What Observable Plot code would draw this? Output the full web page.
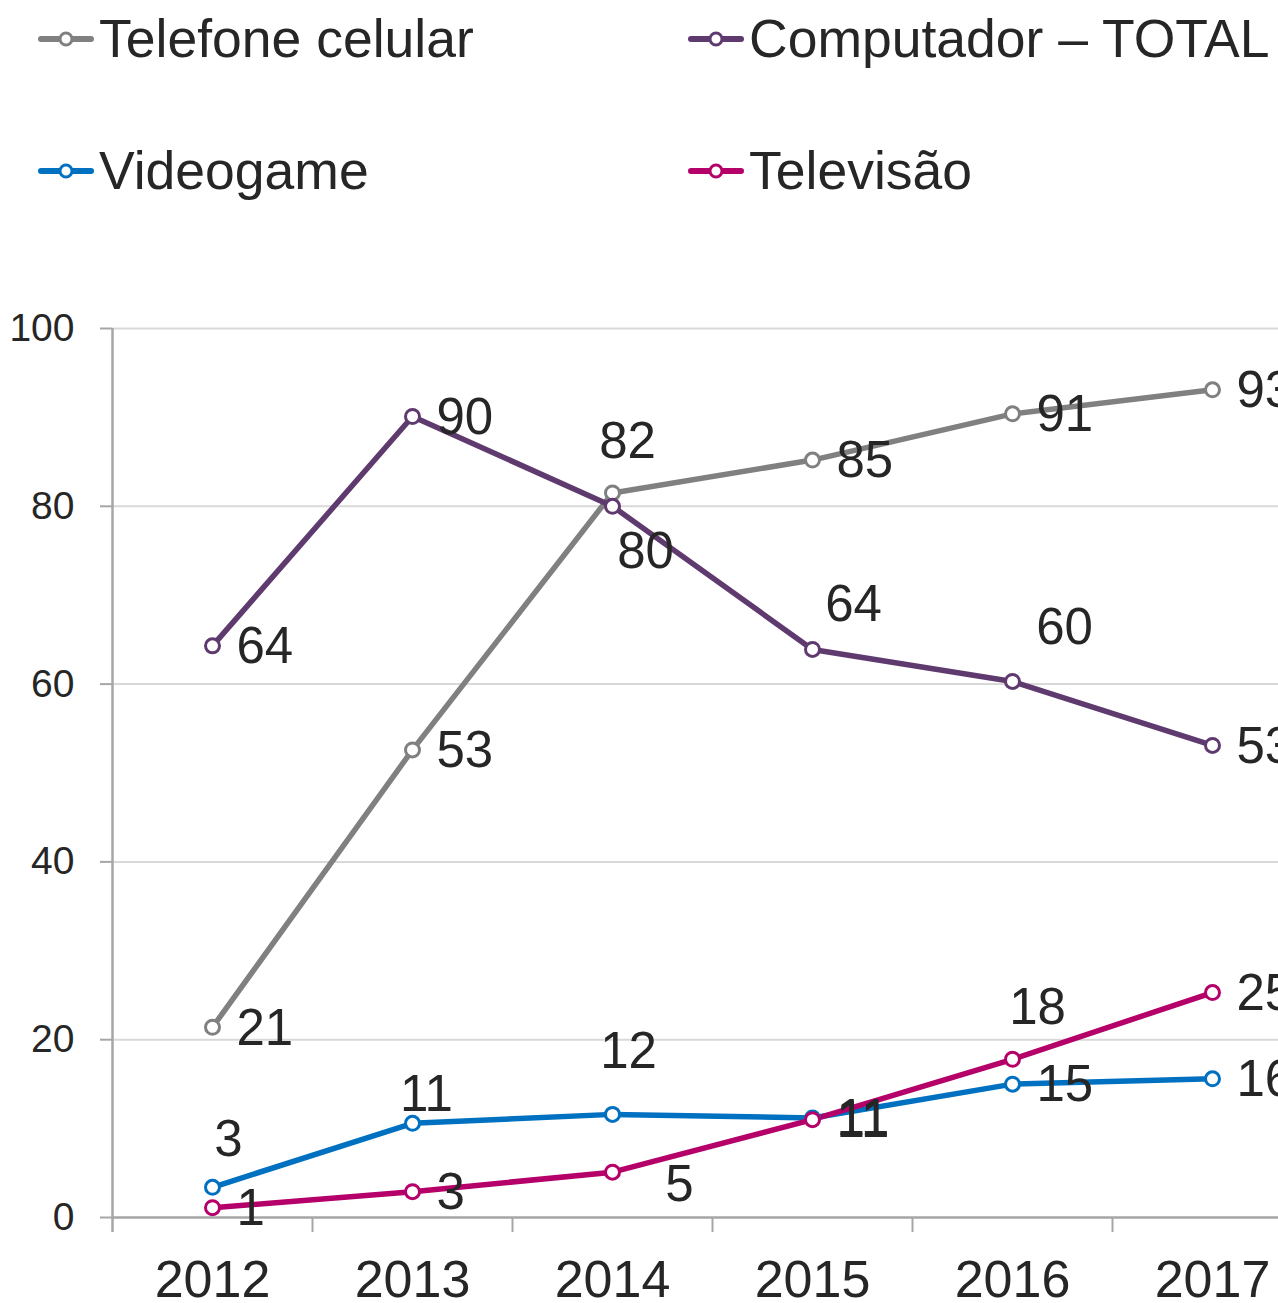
<!DOCTYPE html>
<html>
<head>
<meta charset="utf-8">
<script src="https://cdn.jsdelivr.net/npm/d3@7"></script>
<script src="https://cdn.jsdelivr.net/npm/@observablehq/plot@0.6"></script>
<style>
  html, body { margin: 0; padding: 0; background: #fff; overflow: hidden; width: 1278px; height: 1303px; }
  body { position: relative; font-family: "Liberation Sans", Arial, sans-serif; color: #262626; }
  .item { position: absolute; display: flex; align-items: center; height: 54px; line-height: 54px; font-size: 53.5px; white-space: nowrap; }
  .item svg { margin-right: 5px; }
  #chart { position: absolute; left: 0; top: 290px; width: 1320px; }
  #chart svg { max-width: none !important; height: 1013px !important; }
</style>
</head>
<body>
<div id="legend"></div>
<div id="chart"></div>
<script>
// ---- data ----
const years = [2012, 2013, 2014, 2015, 2016, 2017];
const seriesNames = ["Telefone celular", "Computador – TOTAL", "Videogame", "Televisão"];
const telefone   = [21, 53, 82, 85, 91, 93];
const computador = [64, 90, 80, 64, 60, 53];
const videogame  = [3, 11, 12, 11, 15, 16];
const televisao  = [1, 3, 5, 11, 18, 25];
const telefonePos   = [21.4, 52.6, 81.5, 85.2, 90.4, 93.1];
const computadorPos = [64.3, 90.1, 80.0, 63.9, 60.3, 53.1];
const videogamePos  = [3.4, 10.6, 11.6, 11.2, 15.0, 15.6];
const televisaoPos  = [1.1, 2.9, 5.1, 11.0, 17.8, 25.3];
const yTicks = [0, 20, 40, 60, 80, 100];

// ---- styling ----
const colors = ["#808080", "#5f3a6f", "#0070c0", "#b5006a"];
// label placement: null = right of point; otherwise [dx, dy] centered
const placements = [
  [null, null, [15, -51], null, null, null],
  [null, null, [33, 45], [41, -45], [52, -54], null],
  [[16, -48], [14, -29], [16, -63], null, null, null],
  [null, null, [67, 13], null, [25, -52], null]
];

const labelVals = [telefone, computador, videogame, televisao];
const posVals = [telefonePos, computadorPos, videogamePos, televisaoPos];

// legend
const legend = document.getElementById("legend");
const legendPos = [[38, 12], [688, 12], [38, 144], [688, 144]];
seriesNames.forEach((name, i) => {
  const d = document.createElement("div");
  d.className = "item";
  d.style.left = legendPos[i][0] + "px";
  d.style.top = legendPos[i][1] + "px";
  d.innerHTML = `<svg width="56" height="20"><line x1="3" x2="53" y1="10" y2="10" stroke="${colors[i]}" stroke-width="6" stroke-linecap="round"/><circle cx="28" cy="10" r="6" fill="#fff" stroke="${colors[i]}" stroke-width="3"/></svg><span>${name}</span>`;
  legend.appendChild(d);
});

const rows = [];
seriesNames.forEach((s, i) => years.forEach((yr, j) => rows.push({series: s, si: i, year: yr, value: posVals[i][j], label: labelVals[i][j], place: placements[i][j]})));

const marks = [
  Plot.ruleY(yTicks.filter(t => t > 0), {stroke: "#d9d9d9", strokeWidth: 2}),
  Plot.axisY(yTicks, {tickSize: 12, tickPadding: 26, fontSize: 39, stroke: "#a6a6a6", strokeWidth: 2, fill: "#262626", label: null}),
  Plot.axisX([2012.5, 2013.5, 2014.5, 2015.5, 2016.5], {tickSize: 15, tickFormat: () => "", stroke: "#a6a6a6", strokeWidth: 2, label: null}),
  Plot.axisX(years, {tickSize: 0, tickPadding: 43, fontSize: 52, fill: "#262626", tickFormat: d => String(d), label: null}),
  Plot.ruleY([0], {stroke: "#a6a6a6", strokeWidth: 2.5}),
  Plot.ruleX([2011.5], {y1: -1.7, y2: 100, stroke: "#a6a6a6", strokeWidth: 2.5}),
];
seriesNames.forEach((s, i) => {
  const d = rows.filter(r => r.si === i);
  marks.push(Plot.line(d, {x: "year", y: "value", stroke: colors[i], strokeWidth: 5.5}));
});
seriesNames.forEach((s, i) => {
  const d = rows.filter(r => r.si === i);
  marks.push(Plot.dot(d, {x: "year", y: "value", r: 7, fill: "#fff", stroke: colors[i], strokeWidth: 3}));
});
const rightLabels = rows.filter(r => r.place === null);
marks.push(Plot.text(rightLabels, {x: "year", y: "value", text: d => String(d.label), textAnchor: "start", lineAnchor: "middle", dx: 24, dy: 1, fontSize: 51, fill: "#262626"}));
rows.filter(r => r.place !== null).forEach(r => {
  marks.push(Plot.text([r], {x: "year", y: "value", text: d => String(d.label), textAnchor: "middle", lineAnchor: "middle", dx: r.place[0], dy: r.place[1], fontSize: 51, fill: "#262626"}));
});

const chart = Plot.plot({
  width: 1320,
  height: 1013,
  marginTop: 38,
  marginBottom: 86,
  marginLeft: 112,
  marginRight: 8,
  style: {fontFamily: "'Liberation Sans', Arial, sans-serif", background: "transparent", color: "#262626", overflow: "visible", maxWidth: "none"},
  x: {type: "linear", domain: [2011.5, 2017.5], axis: null},
  y: {domain: [0, 100], axis: null},
  marks
});
document.getElementById("chart").appendChild(chart);
</script>
</body>
</html>
